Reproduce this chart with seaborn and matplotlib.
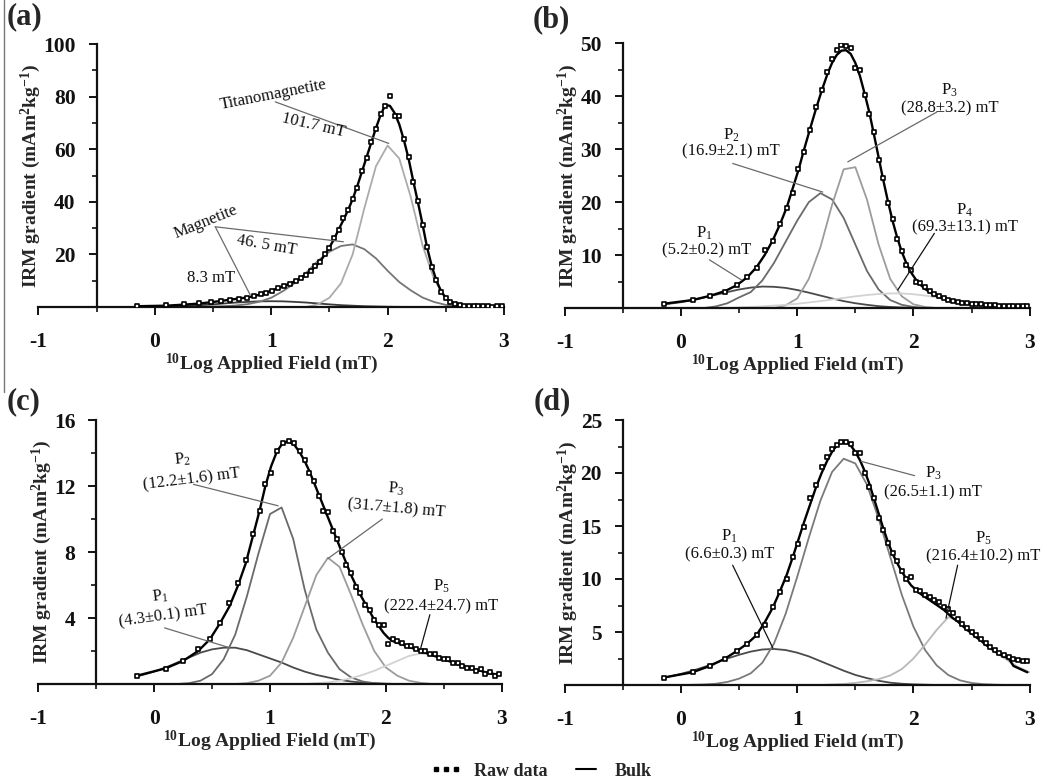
import matplotlib
matplotlib.use("Agg")
import matplotlib.pyplot as plt
from matplotlib.lines import Line2D
from matplotlib.ticker import MultipleLocator
import seaborn as sns

# ---------------- data ----------------
# field steps of the raw measurements (log10 mT), shared by all samples
x_raw = [-0.15, 0.10, 0.25, 0.38, 0.48, 0.57, 0.65, 0.72, 0.79, 0.85,
         0.91, 0.96, 1.01, 1.06, 1.11, 1.16, 1.21, 1.26, 1.30, 1.34,
         1.38, 1.42, 1.46, 1.50, 1.54, 1.58, 1.62, 1.66, 1.70, 1.74,
         1.78, 1.82, 1.86, 1.90, 1.94, 1.98, 2.02, 2.06, 2.10, 2.14,
         2.18, 2.22, 2.26, 2.30, 2.34, 2.38, 2.42, 2.46, 2.50, 2.54,
         2.58, 2.62, 2.66, 2.70, 2.74, 2.78, 2.82, 2.86, 2.90, 2.94,
         2.98]

raw_a = [0.4, 0.8, 1.1, 1.6, 1.9, 2.2, 2.8, 3.1, 3.6, 4.2,
         4.9, 5.4, 6.2, 7.3, 8.1, 8.8, 10.0, 11.2, 12.2, 13.6,
         15.5, 17.1, 20.0, 22.3, 26.1, 29.2, 33.8, 36.8, 41.2, 45.2,
         51.8, 56.7, 62.9, 67.6, 73.4, 76.3, 80.2, 72.8, 72.5, 64.0,
         57.0, 47.5, 40.3, 31.0, 23.0, 15.2, 10.3, 5.8, 3.6, 1.8,
         1.1, 0.7, 0.5, 0.4, 0.3, 0.5, 0.2, 0.3, 0.1, 0.4,
         0.2]
bulk_a = [0.3, 0.5, 0.9, 1.3, 1.8, 2.3, 2.8, 3.2, 3.6, 4.1,
          4.8, 5.5, 6.3, 7.2, 8.0, 8.9, 9.9, 11.0, 12.3, 13.8,
          15.3, 17.3, 19.8, 22.6, 25.8, 29.5, 33.0, 36.8, 41.0, 46.0,
          51.5, 57.0, 62.5, 68.0, 73.0, 76.8, 76.5, 73.8, 69.5, 63.5,
          56.5, 48.0, 40.0, 31.5, 22.5, 15.5, 10.0, 6.0, 3.5, 2.0,
          1.2, 0.8, 0.5, 0.4, 0.3, 0.3, 0.2, 0.2, 0.2, 0.2,
          0.2]

raw_b = [0.8, 1.5, 2.3, 3.1, 4.3, 5.9, 7.6, 10.9, 12.6, 15.9,
         18.8, 21.8, 26.2, 29.5, 33.6, 37.9, 41.2, 44.5, 47.0, 48.8,
         49.6, 49.5, 49.2, 45.3, 45.0, 40.2, 36.6, 33.2, 28.0, 24.6,
         19.8, 16.8, 13.1, 10.8, 8.2, 7.2, 5.0, 4.8, 3.9, 3.2,
         2.6, 2.2, 1.9, 1.5, 1.4, 1.1, 1.0, 1.0, 0.8, 0.7,
         0.7, 0.5, 0.6, 0.5, 0.4, 0.4, 0.4, 0.3, 0.3, 0.3,
         0.3]
bulk_b = [0.8, 1.5, 2.3, 3.2, 4.3, 5.8, 7.7, 10.0, 12.8, 15.7,
          19.0, 22.5, 26.0, 30.0, 33.8, 37.5, 41.0, 44.2, 46.3, 47.8,
          48.6, 48.7, 48.0, 46.3, 43.8, 40.5, 37.0, 32.8, 28.5, 24.2,
          20.2, 16.5, 13.3, 10.6, 8.4, 6.7, 5.4, 4.4, 3.6, 3.0,
          2.5, 2.1, 1.8, 1.5, 1.3, 1.1, 1.0, 0.9, 0.8, 0.7,
          0.6, 0.55, 0.5, 0.45, 0.4, 0.4, 0.35, 0.35, 0.3, 0.3,
          0.3]

raw_c = [0.5, 0.9, 1.4, 2.1, 2.7, 3.7, 4.9, 6.1, 7.5, 9.1,
         10.5, 12.1, 12.8, 14.1, 14.6, 14.7, 14.6, 14.1, 13.6, 12.8,
         12.3, 11.4, 10.5, 10.4, 9.3, 8.8, 8.0, 7.2, 6.7, 5.9,
         5.5, 4.8, 4.5, 3.9, 3.6, 3.6, 2.4, 2.7, 2.6, 2.5,
         2.3, 2.3, 2.1, 2.0, 2.0, 1.8, 1.8, 1.6, 1.5, 1.5,
         1.3, 1.3, 1.1, 1.0, 1.0, 0.8, 0.9, 0.6, 0.7, 0.5,
         0.6]
bulk_c = [0.5, 0.95, 1.4, 2.0, 2.7, 3.7, 4.7, 5.9, 7.3, 8.9,
          10.5, 12.0, 13.2, 14.1, 14.6, 14.7, 14.5, 14.0, 13.5, 12.9,
          12.2, 11.5, 10.8, 10.1, 9.4, 8.7, 8.0, 7.3, 6.6, 6.0,
          5.4, 4.9, 4.4, 3.9, 3.5, 3.1, 2.8, 2.6, 2.5, 2.4,
          2.3, 2.2, 2.1, 2.0, 1.9, 1.8, 1.7, 1.6, 1.5, 1.4,
          1.3, 1.2, 1.1, 1.0, 0.95, 0.85, 0.8, 0.7, 0.65, 0.6,
          0.55]

raw_d = [0.7, 1.2, 1.8, 2.5, 3.2, 3.9, 4.7, 5.7, 7.4, 8.8,
         10.0, 12.1, 13.3, 14.9, 17.6, 18.9, 20.6, 21.5, 22.3, 22.6,
         22.9, 22.9, 22.7, 21.9, 21.9, 20.0, 18.7, 17.6, 15.8, 14.6,
         13.4, 12.5, 11.7, 10.8, 10.0, 10.2, 9.0, 8.9, 8.5, 8.3,
         8.0, 7.8, 7.4, 7.2, 6.8, 6.2, 5.8, 5.4, 5.0, 4.7,
         4.3, 4.0, 3.6, 3.3, 3.0, 2.8, 2.6, 2.5, 2.4, 2.3,
         2.3]
bulk_d = [0.7, 1.2, 1.8, 2.5, 3.2, 3.9, 4.7, 5.9, 7.3, 8.8,
          10.4, 12.0, 13.7, 15.4, 17.0, 18.6, 20.0, 21.2, 22.0, 22.6,
          22.9, 22.9, 22.6, 22.0, 21.2, 20.2, 19.0, 17.6, 16.2, 14.8,
          13.5, 12.4, 11.5, 10.7, 10.0, 9.4, 9.0, 8.6, 8.3, 8.0,
          7.7, 7.4, 7.1, 6.7, 6.3, 6.0, 5.6, 5.2, 4.9, 4.5,
          4.2, 3.8, 3.5, 3.2, 2.9, 2.7, 2.5, 1.8, 1.6, 1.4,
          1.2]

# component curves, sampled on a coarser field grid
x_comp = [-0.15, -0.1, 0.0, 0.1, 0.2, 0.3, 0.4, 0.5, 0.6, 0.7, 0.8,
          0.9, 1.0, 1.1, 1.2, 1.3, 1.4, 1.5, 1.6, 1.7, 1.8, 1.9,
          2.0, 2.1, 2.2, 2.3, 2.4, 2.5, 2.6, 2.7, 2.8, 2.9, 3.0]

a_mag1 = [0.05, 0.08, 0.1, 0.2, 0.3, 0.5, 0.7, 1.0, 1.35, 1.7, 1.95,
          2.15, 2.2, 2.15, 1.95, 1.7, 1.35, 1.0, 0.7, 0.5, 0.3, 0.2,
          0.1, 0.05, 0.02, 0, 0, 0, 0, 0, 0, 0, 0]
a_mag2 = [0, 0, 0, 0, 0, 0.05, 0.1, 0.2, 0.3, 0.6, 1.1,
          2.0, 3.5, 6.0, 9.0, 13.0, 17.5, 21.0, 23.2, 23.8, 22.0, 18.5,
          13.8, 9.5, 6.3, 3.6, 1.9, 0.8, 0.3, 0.1, 0, 0, 0]
a_titano = [0, 0, 0, 0, 0, 0, 0, 0, 0, 0, 0,
            0, 0, 0, 0, 0, 1.0, 3.5, 9.0, 20.0, 37.5, 53.5,
            61.4, 56.5, 41.7, 23.5, 10.5, 3.0, 0.6, 0.1, 0, 0, 0]

b_p1 = [0.7, 0.8, 1.1, 1.5, 2.0, 2.5, 3.0, 3.5, 3.85, 4.05, 4.0,
        3.8, 3.4, 2.9, 2.35, 1.8, 1.3, 0.9, 0.6, 0.35, 0.2, 0.1,
        0.05, 0, 0, 0, 0, 0, 0, 0, 0, 0, 0]
b_p2 = [0, 0, 0, 0, 0, 0.3, 0.9, 2.0, 3.0, 5.2, 8.5,
        12.5, 16.5, 20.0, 21.7, 20.5, 17.0, 12.0, 7.0, 3.5, 1.5, 0.6,
        0.2, 0, 0, 0, 0, 0, 0, 0, 0, 0, 0]
b_p3 = [0, 0, 0, 0, 0, 0, 0, 0, 0, 0, 0,
        0.5, 1.8, 5.5, 11.5, 19.5, 26.2, 26.6, 20.5, 12.0, 5.5, 2.2,
        0.7, 0.2, 0, 0, 0, 0, 0, 0, 0, 0, 0]
b_p4 = [0, 0, 0, 0, 0, 0, 0, 0.1, 0.2, 0.3, 0.45,
        0.6, 0.8, 1.05, 1.3, 1.6, 1.9, 2.2, 2.45, 2.65, 2.75, 2.75,
        2.6, 2.35, 2.0, 1.5, 1.0, 0.7, 0.5, 0.35, 0.25, 0.18, 0.12]

c_p1 = [0.45, 0.55, 0.75, 1.0, 1.3, 1.6, 1.9, 2.1, 2.2, 2.2, 2.05,
        1.8, 1.55, 1.3, 1.0, 0.75, 0.55, 0.4, 0.25, 0.15, 0.08, 0.04,
        0.02, 0, 0, 0, 0, 0, 0, 0, 0, 0, 0]
c_p2 = [0, 0, 0, 0, 0, 0.05, 0.2, 0.6, 1.5, 3.0, 5.3,
        7.9, 10.3, 10.7, 8.8, 5.7, 3.3, 1.9, 0.9, 0.4, 0.15, 0.05,
        0, 0, 0, 0, 0, 0, 0, 0, 0, 0, 0]
c_p3 = [0, 0, 0, 0, 0, 0, 0, 0, 0, 0, 0.05,
        0.2, 0.5, 1.3, 2.8, 4.7, 6.6, 7.65, 7.1, 5.4, 3.6, 2.0,
        1.0, 0.5, 0.2, 0.07, 0, 0, 0, 0, 0, 0, 0]
c_p5 = [0, 0, 0, 0, 0, 0, 0, 0, 0, 0, 0,
        0, 0, 0, 0, 0, 0.05, 0.1, 0.2, 0.35, 0.55, 0.8,
        1.1, 1.4, 1.7, 1.85, 1.75, 1.55, 1.35, 1.1, 0.85, 0.65, 0.5]

d_p1 = [0.65, 0.8, 1.05, 1.35, 1.7, 2.1, 2.5, 2.85, 3.15, 3.35, 3.4,
        3.3, 3.05, 2.7, 2.25, 1.8, 1.35, 0.95, 0.65, 0.4, 0.22, 0.12,
        0.06, 0.03, 0, 0, 0, 0, 0, 0, 0, 0, 0]
d_p3 = [0, 0, 0, 0.02, 0.05, 0.12, 0.29, 0.6, 1.1, 2.1, 3.9,
        6.7, 10.2, 13.9, 17.4, 20.1, 21.35, 20.9, 18.9, 15.7, 12.1, 8.5,
        5.5, 3.3, 1.85, 0.94, 0.44, 0.19, 0.08, 0.03, 0, 0, 0]
d_p5 = [0, 0, 0, 0, 0, 0, 0, 0, 0, 0, 0,
        0, 0, 0, 0, 0.05, 0.1, 0.2, 0.35, 0.55, 0.9, 1.5,
        2.5, 3.8, 5.2, 6.4, 6.1, 5.0, 4.0, 3.1, 2.4, 1.7, 1.2]

panel_letters = ["(a)", "(b)", "(c)", "(d)"]
x_ticks = [-1, 0, 1, 2, 3]
y_ticks_a = [20, 40, 60, 80, 100]
y_ticks_b = [10, 20, 30, 40, 50]
y_ticks_c = [4, 8, 12, 16]
y_ticks_d = [5, 10, 15, 20, 25]

# ---------------- style ----------------
sns.set_style("ticks")
plt.rcParams["font.family"] = ["Liberation Serif", "DejaVu Serif"]
plt.rcParams["mathtext.fontset"] = "custom"
plt.rcParams["mathtext.rm"] = "Liberation Serif"
plt.rcParams["mathtext.it"] = "Liberation Serif:italic"
plt.rcParams["mathtext.bf"] = "Liberation Serif:bold"
plt.rcParams["axes.unicode_minus"] = False

fig = plt.figure(figsize=(10.56, 7.84), dpi=100)

W, H = 1056.0, 784.0
def pos(left, right, bottom, top):
    return [left / W, 1 - bottom / H, (right - left) / W, (bottom - top) / H]

panels = [
    dict(rect=pos(38.3, 504.0, 307.0, 44.0), raw=raw_a, bulk=bulk_a, ymax=100,
         yt=y_ticks_a, ym=10,
         comps=[(a_mag1, "#3c3c3c"), (a_mag2, "#767676"), (a_titano, "#ababab")],
         texts=[("Titanomagnetite", 1.02, 80.6, 11), ("101.7 mT", 1.36, 69.2, -13),
                ("Magnetite", 0.44, 32.4, 22), ("46. 5 mT", 0.96, 23.6, -10),
                ("8.3 mT", 0.48, 10.9, 0)],
         lines=[(1.035, 78.0, 2.01, 62.2, "#6a6a6a"), (0.52, 30.5, 1.62, 24.8, "#6a6a6a"),
                (0.52, 30.5, 0.82, 4.6, "#6a6a6a")],
         letter=(24, 17)),
    dict(rect=pos(564.7, 1029.7, 308.0, 43.3), raw=raw_b, bulk=bulk_b, ymax=50,
         yt=y_ticks_b, ym=5,
         comps=[(b_p1, "#4a4a4a"), (b_p2, "#6a6a6a"), (b_p3, "#9c9c9c"), (b_p4, "#d2d2d2")],
         texts=[("P$_3$", 2.31, 41.1, 0), ("(28.8±3.2) mT", 2.31, 37.7, 0),
                ("P$_2$", 0.43, 32.6, 0), ("(16.9±2.1) mT", 0.43, 29.5, 0),
                ("P$_1$", 0.20, 14.1, 0), ("(5.2±0.2) mT", 0.22, 10.9, 0),
                ("P$_4$", 2.44, 18.5, 0), ("(69.3±13.1) mT", 2.44, 15.3, 0)],
         lines=[(2.20, 37.0, 1.435, 27.6, "#6a6a6a"), (0.445, 27.3, 1.22, 21.9, "#6a6a6a"),
                (0.245, 9.1, 0.52, 5.3, "#6a6a6a"), (2.18, 14.1, 1.865, 3.4, "#111111")],
         letter=(551, 20)),
    dict(rect=pos(38.3, 501.7, 684.0, 420.0), raw=raw_c, bulk=bulk_c, ymax=16,
         yt=y_ticks_c, ym=2,
         comps=[(c_p1, "#4a4a4a"), (c_p2, "#6a6a6a"), (c_p3, "#9c9c9c"), (c_p5, "#d2d2d2")],
         texts=[("P$_2$", 0.24, 13.6, 6), ("(12.2±1.6) mT", 0.32, 12.4, 7),
                ("P$_3$", 2.09, 11.8, -4), ("(31.7±1.8) mT", 2.09, 10.65, -5),
                ("P$_1$", 0.05, 5.3, 7), ("(4.3±0.1) mT", 0.08, 4.1, 8),
                ("P$_5$", 2.48, 5.9, 0), ("(222.4±24.7) mT", 2.48, 4.7, 0)],
         lines=[(0.34, 12.1, 1.07, 10.8, "#6a6a6a"), (1.97, 10.0, 1.50, 7.6, "#6a6a6a"),
                (0.09, 3.4, 0.65, 2.2, "#6a6a6a"), (2.38, 4.2, 2.30, 2.15, "#111111")],
         letter=(24, 402)),
    dict(rect=pos(564.7, 1029.7, 685.0, 420.0), raw=raw_d, bulk=bulk_d, ymax=25,
         yt=y_ticks_d, ym=2.5,
         comps=[(d_p1, "#4a4a4a"), (d_p3, "#7a7a7a"), (d_p5, "#b8b8b8")],
         texts=[("P$_3$", 2.17, 20.0, 0), ("(26.5±1.1) mT", 2.17, 18.2, 0),
                ("P$_1$", 0.42, 14.0, 0), ("(6.6±0.3) mT", 0.42, 12.3, 0),
                ("P$_5$", 2.60, 13.8, 0), ("(216.4±10.2) mT", 2.60, 12.1, 0)],
         lines=[(2.01, 19.75, 1.55, 21.1, "#6a6a6a"), (0.445, 11.3, 0.79, 3.5, "#111111"),
                (2.38, 11.3, 2.28, 6.3, "#111111")],
         letter=(552, 402)),
]

for i, p in enumerate(panels):
    ax = fig.add_axes(p["rect"])
    for vals, col in p["comps"]:
        sns.lineplot(x=x_comp, y=vals, ax=ax, color=col, lw=1.3, estimator=None, zorder=2)
    sns.lineplot(x=x_raw, y=p["bulk"], ax=ax, color="black", lw=1.7, estimator=None, zorder=3)
    sns.scatterplot(x=x_raw, y=p["raw"], ax=ax, marker="s", s=10, color="white",
                    edgecolor="black", linewidth=1.2, zorder=4)

    for (x0, y0, x1, y1, col) in p["lines"]:
        ax.annotate("", xy=(x1, y1), xytext=(x0, y0),
                    arrowprops=dict(arrowstyle="-", color=col, lw=0.9,
                                    shrinkA=0, shrinkB=0), zorder=5)
    for (txt, tx, ty, rot) in p["texts"]:
        ax.text(tx, ty, txt, ha="center", va="center", rotation=rot,
                rotation_mode="anchor", fontsize=12, color="#111111", zorder=6)

    ax.set_xlim(-1, 3)
    ax.set_ylim(0, p["ymax"])
    ax.spines["left"].set_position(("data", -0.5))
    ax.spines["top"].set_visible(False)
    ax.spines["right"].set_visible(False)
    for s in ("left", "bottom"):
        ax.spines[s].set_linewidth(1.6)
        ax.spines[s].set_color("#111111")
    ax.set_xticks(x_ticks)
    ax.xaxis.set_minor_locator(MultipleLocator(0.5))
    ax.set_yticks(p["yt"])
    ax.yaxis.set_minor_locator(MultipleLocator(p["ym"]))
    ax.tick_params(axis="both", which="major", direction="out", length=6, width=1.4,
                   colors="#111111", labelsize=15.5)
    ax.tick_params(axis="both", which="minor", direction="out", length=3.5, width=1.2,
                   colors="#111111")
    ax.tick_params(axis="x", which="major", pad=12)
    ax.tick_params(axis="y", which="major", pad=9)
    ax.set_xticklabels([str(t) for t in x_ticks])
    ax.set_yticklabels([str(t) for t in p["yt"]])
    for lab in ax.get_xticklabels() + ax.get_yticklabels():
        lab.set_fontweight("bold")
    ax.set_xlabel(r"$^{\mathbf{10}}$Log Applied Field (mT)", fontsize=14,
                  fontweight="bold", labelpad=0)
    ax.set_ylabel(r"IRM gradient (mAm$^{\mathbf{2}}$kg$^{\mathbf{-1}}$)", fontsize=14,
                  fontweight="bold", labelpad=0)
    ax.patch.set_alpha(0)

    lx, ly = p["letter"]
    fig.text(lx / W, 1 - ly / H, panel_letters[i], fontsize=22, fontweight="bold",
             ha="center", va="center")

# scan-edge line at the left of the top row
fig.add_artist(Line2D([4 / W, 4 / W], [1 - 392 / H, 1.0], color="#777777", lw=1.0))

handles = [Line2D([], [], ls="none", marker="s", ms=3.5, color="black"),
           Line2D([], [], color="black", lw=1.5)]
fig.legend(handles, ["Raw data", "Bulk"], loc="center",
           bbox_to_anchor=(541 / W, 1 - 771 / H), ncol=2, frameon=False, numpoints=3,
           handlelength=1.7, handletextpad=0.7, columnspacing=1.3,
           prop={"family": "Liberation Serif", "weight": "bold", "size": 13})

fig.savefig("out.png", dpi=100)
